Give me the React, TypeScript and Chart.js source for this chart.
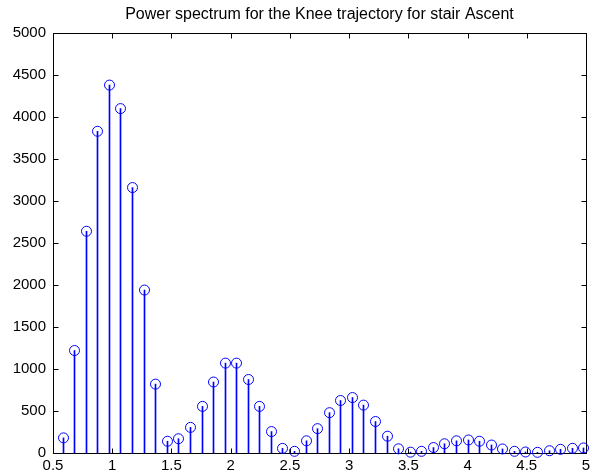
import { useEffect, useRef } from "react";
import { Chart, registerables } from "chart.js";

Chart.register(...registerables);

const titleText = "Power spectrum for the Knee trajectory for stair Ascent";

// Frequency bins (Hz)
const frequencies = [
  0.586, 0.684, 0.781, 0.879, 0.977, 1.074, 1.172, 1.27, 1.367, 1.465,
  1.563, 1.66, 1.758, 1.855, 1.953, 2.051, 2.148, 2.246, 2.344, 2.441,
  2.539, 2.637, 2.734, 2.832, 2.93, 3.027, 3.125, 3.223, 3.32, 3.418,
  3.516, 3.613, 3.711, 3.809, 3.906, 4.004, 4.102, 4.199, 4.297, 4.395,
  4.492, 4.59, 4.688, 4.785, 4.883, 4.98,
];

// Power at each bin
const power = [
  180, 1220, 2640, 3830, 4380, 4100, 3160, 1940, 820, 140,
  170, 305, 555, 845, 1070, 1070, 875, 555, 255, 55,
  20, 145, 290, 480, 625, 660, 570, 375, 200, 50,
  10, 20, 65, 110, 145, 155, 140, 95, 48, 20,
  12, 8, 27, 44, 56, 60,
];

const xTicks = [0.5, 1, 1.5, 2, 2.5, 3, 3.5, 4, 4.5, 5];
const yTicks = [0, 500, 1000, 1500, 2000, 2500, 3000, 3500, 4000, 4500, 5000];

const FONT = "Liberation Sans, Arial, Helvetica, sans-serif";
const STEM_COLOR = "#0000ff";

// Snap stems and markers to pixel centres so 1px stems stay crisp.
const snapPlugin = {
  id: "stemSnap",
  beforeDatasetsDraw(chart: any) {
    chart.data.datasets.forEach((_: any, i: number) => {
      const meta = chart.getDatasetMeta(i);
      meta.data.forEach((el: any) => {
        el.x = Math.floor(el.x) + 0.5;
      });
    });
  },
};

// Axes box with inward tick marks on all four sides, plus the title.
const boxPlugin = {
  id: "matlabBox",
  beforeDatasetsDraw(chart: any) {
    const { ctx, chartArea, scales } = chart;
    const { left, right, top, bottom } = chartArea;
    const len = 5;
    ctx.save();
    ctx.strokeStyle = "#000";
    ctx.lineWidth = 1;
    ctx.beginPath();
    const l = Math.round(left) + 0.5;
    const r = Math.round(right) + 0.5;
    const t = Math.round(top) + 0.5;
    const b = Math.round(bottom) + 0.5;
    ctx.rect(l, t, r - l, b - t);
    xTicks.forEach((v) => {
      const px = Math.round(scales.x.getPixelForValue(v)) + 0.5;
      ctx.moveTo(px, b);
      ctx.lineTo(px, b - len);
      ctx.moveTo(px, t);
      ctx.lineTo(px, t + len);
    });
    yTicks.forEach((v) => {
      const py = Math.round(scales.y.getPixelForValue(v)) + 0.5;
      ctx.moveTo(l, py);
      ctx.lineTo(l + len, py);
      ctx.moveTo(r, py);
      ctx.lineTo(r - len, py);
    });
    ctx.stroke();
    ctx.restore();
  },
  afterDraw(chart: any) {
    const { ctx, chartArea } = chart;
    ctx.save();
    ctx.fillStyle = "#000";
    ctx.font = `16px ${FONT}`;
    ctx.textAlign = "center";
    ctx.textBaseline = "middle";
    ctx.fillText(titleText, (chartArea.left + chartArea.right) / 2, 15);
    ctx.restore();
  },
};

export default function App() {
  const canvasRef = useRef<HTMLCanvasElement | null>(null);

  useEffect(() => {
    if (!canvasRef.current) return;
    const points = frequencies.map((f, i) => ({ x: f, y: power[i] }));
    const chart = new Chart(canvasRef.current, {
      type: "bar",
      data: {
        datasets: [
          {
            type: "scatter",
            data: points,
            pointStyle: "circle",
            pointRadius: 5,
            pointHoverRadius: 5,
            borderColor: STEM_COLOR,
            backgroundColor: "rgba(0,0,0,0)",
            borderWidth: 1,
            clip: false,
            order: 0,
          } as any,
          {
            type: "bar",
            data: points,
            backgroundColor: STEM_COLOR,
            borderWidth: 0,
            barThickness: 1,
            order: 1,
          } as any,
        ],
      },
      options: {
        responsive: false,
        animation: false,
        events: [],
        layout: { padding: { top: 33, right: 16, left: 0, bottom: 0 } },
        plugins: {
          legend: { display: false },
          tooltip: { enabled: false },
          title: { display: false },
        },
        scales: {
          x: {
            type: "linear",
            min: 0.5,
            max: 5,
            offset: false,
            grid: { display: false, drawTicks: false },
            border: { display: false },
            afterBuildTicks: (scale: any) => {
              scale.ticks = xTicks.map((v) => ({ value: v }));
            },
            afterFit: (scale: any) => {
              scale.height = 23;
            },
            ticks: {
              color: "#000",
              font: { family: FONT, size: 15 },
              padding: 4,
              maxRotation: 0,
              autoSkip: false,
              callback: (v: any) => String(v),
            },
          },
          y: {
            type: "linear",
            min: 0,
            max: 5000,
            grid: { display: false, drawTicks: false },
            border: { display: false },
            afterBuildTicks: (scale: any) => {
              scale.ticks = yTicks.map((v) => ({ value: v }));
            },
            afterFit: (scale: any) => {
              scale.width = 53;
            },
            ticks: {
              color: "#000",
              font: { family: FONT, size: 15 },
              padding: 7,
              autoSkip: false,
              callback: (v: any) => String(v),
            },
          },
        },
      } as any,
      plugins: [snapPlugin, boxPlugin],
    });
    return () => chart.destroy();
  }, []);

  return (
    <div
      style={{
        position: "fixed",
        left: 0,
        top: 0,
        width: 602,
        height: 476,
        background: "#fff",
      }}
    >
      <canvas ref={canvasRef} width={602} height={476} />
    </div>
  );
}
